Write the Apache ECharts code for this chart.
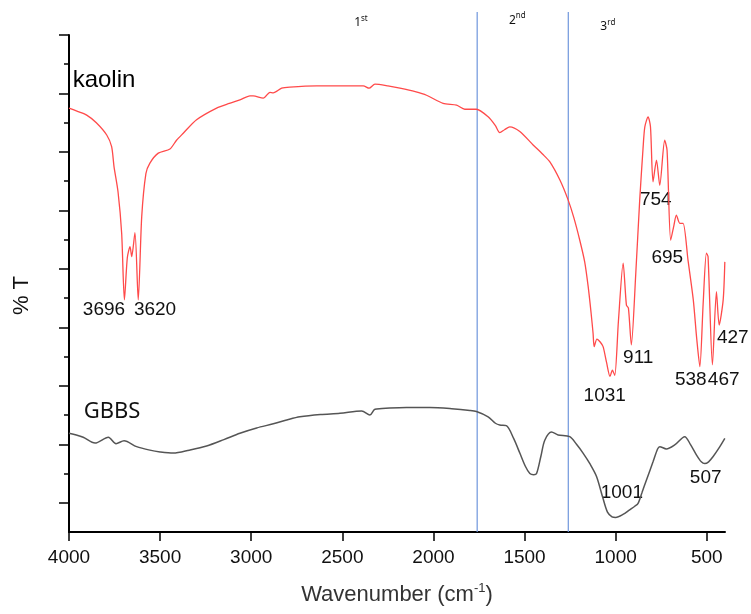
<!DOCTYPE html>
<html>
<head>
<meta charset="utf-8">
<script src="https://cdn.jsdelivr.net/npm/echarts@6/dist/echarts.min.js"></script>
<style>
  html, body { margin: 0; padding: 0; background: #fff; }
  #chart { width: 751px; height: 614px; }
</style>
</head>
<body>
<div id="chart"></div>
<script>
// wavenumber ticks (cm-1)
const xTicks = [500, 1000, 1500, 2000, 2500, 3000, 3500, 4000];
// y axis has no labels: long ticks at half units, short ones in between
const yMajorTicks = [0.5, 1.5, 2.5, 3.5, 4.5, 5.5, 6.5, 7.5, 8.5];
const yMinorTicks = [1, 2, 3, 4, 5, 6, 7, 8];

// [wavenumber, %T (arbitrary offset units)]
const kaolin = [
  [4000, 7.25], [3950, 7.19], [3903, 7.13], [3850, 7.00], [3793, 6.79], [3766, 6.59],
  [3753, 6.25], [3731, 5.82], [3711, 5.11], [3696, 3.97], [3680, 4.69], [3665, 4.88],
  [3656, 4.71], [3638, 5.12], [3620, 3.97], [3601, 5.39], [3578, 6.13], [3556, 6.31],
  [3510, 6.48], [3446, 6.55], [3410, 6.70], [3373, 6.82], [3300, 7.05], [3190, 7.25],
  [3120, 7.33], [3062, 7.39], [3007, 7.46], [2989, 7.46], [2934, 7.42], [2897, 7.52],
  [2879, 7.51], [2833, 7.59], [2788, 7.61], [2641, 7.63], [2500, 7.63], [2385, 7.63],
  [2353, 7.59], [2321, 7.66], [2250, 7.63], [2184, 7.59], [2100, 7.53], [2038, 7.47],
  [1947, 7.33], [1873, 7.30], [1828, 7.23], [1764, 7.23], [1700, 7.10], [1660, 6.95],
  [1636, 6.83], [1610, 6.88], [1581, 6.93], [1526, 6.85], [1453, 6.62], [1400, 6.46],
  [1361, 6.33], [1306, 6.02], [1261, 5.68], [1230, 5.38], [1197, 4.99], [1170, 4.62],
  [1151, 4.20], [1135, 3.75], [1124, 3.40], [1118, 3.17], [1103, 3.30], [1085, 3.25],
  [1069, 3.17], [1050, 2.90], [1031, 2.66], [1018, 2.77], [1005, 2.68], [985, 3.60],
  [959, 4.60], [941, 3.88], [930, 3.83], [914, 3.20], [890, 4.40], [868, 5.68],
  [850, 6.55], [840, 6.93], [822, 7.10], [809, 6.93], [795, 5.99], [776, 6.36],
  [758, 5.93], [731, 6.70], [718, 6.53], [698, 4.99], [680, 5.25], [667, 5.42],
  [648, 5.28], [630, 5.28], [603, 4.65], [574, 3.97], [555, 3.30], [538, 2.83],
  [520, 3.90], [502, 4.77], [493, 4.71], [469, 2.86], [447, 4.11], [432, 3.54],
  [410, 3.97], [401, 4.62]
];

const gbbs = [
  [4000, 1.69], [3960, 1.66], [3922, 1.62], [3857, 1.52], [3784, 1.62], [3742, 1.51],
  [3698, 1.56], [3629, 1.46], [3556, 1.40], [3500, 1.37], [3428, 1.35], [3340, 1.40],
  [3245, 1.47], [3150, 1.58], [3062, 1.69], [2970, 1.78], [2879, 1.85], [2800, 1.92],
  [2733, 1.97], [2620, 2.01], [2513, 2.03], [2394, 2.07], [2349, 2.00], [2321, 2.10],
  [2240, 2.12], [2148, 2.13], [2020, 2.13], [1900, 2.11], [1800, 2.08], [1764, 2.06],
  [1700, 1.97], [1660, 1.86], [1636, 1.83], [1600, 1.82], [1560, 1.60], [1526, 1.35],
  [1495, 1.12], [1471, 1.00], [1450, 0.98], [1434, 1.00], [1410, 1.30], [1389, 1.57],
  [1352, 1.71], [1316, 1.66], [1252, 1.63], [1215, 1.50], [1179, 1.35], [1140, 1.16],
  [1105, 0.95], [1070, 0.58], [1045, 0.34], [1020, 0.26], [1000, 0.25], [960, 0.30],
  [923, 0.38], [895, 0.44], [877, 0.49], [855, 0.68], [831, 0.89], [795, 1.20],
  [770, 1.42], [758, 1.46], [722, 1.42], [676, 1.49], [621, 1.63], [590, 1.50],
  [557, 1.32], [530, 1.20], [511, 1.17], [490, 1.20], [465, 1.29], [430, 1.45],
  [401, 1.60]
];

// region boundaries (blue lines)
const boundaries = [1760, 1260];

// [wavenumber, y, text]
const peakLabels = [
  [3808, 3.80, '3696'], [3528, 3.80, '3620'], [1060, 2.34, '1031'], [876, 2.98, '911'],
  [780, 5.68, '754'], [717, 4.70, '695'], [588, 2.60, '538'], [407, 2.60, '467'],
  [357, 3.32, '427'], [966, 0.67, '1001'], [506, 0.92, '507']
];
const kaolinLabel = [[3808, 7.73, 'kaolin']];
const gbbsLabel = [[3764, 2.05, 'GBBS']];
// [wavenumber, y, number, suffix]
const regionLabels = [
  [2398, 8.72, '1', 'st'], [1540, 8.76, '2', 'nd'], [1043, 8.65, '3', 'rd']
];

const ARIAL = 'Liberation Sans, Arial, sans-serif';
const CALIBRI = 'Noto Sans, Open Sans, sans-serif';

const chart = echarts.init(document.getElementById('chart'));

// text-only scatter (no symbol), scatter's default 0.8 opacity switched off
const textSeries = (data, label) => ({
  type: 'scatter',
  xAxisIndex: 1,
  yAxisIndex: 2,
  symbolSize: 0,
  clip: false,
  silent: true,
  itemStyle: { opacity: 1 },
  data: data,
  label: Object.assign({ show: true, position: 'inside', textBorderWidth: 0, opacity: 1 }, label)
});

chart.setOption({
  animation: false,
  backgroundColor: '#fff',
  grid: [
    { left: 69, right: 26, top: 35, bottom: 82 },
    { left: 69, right: 26, top: 12, bottom: 82 }
  ],
  xAxis: [
    {
      type: 'value', gridIndex: 0, min: 400, max: 4000, inverse: true,
      axisLine: { lineStyle: { color: '#000', width: 2 } },
      axisTick: { customValues: xTicks, length: 9, lineStyle: { color: '#000', width: 1.5 } },
      axisLabel: {
        customValues: xTicks, fontSize: 19, fontFamily: ARIAL, color: '#111', margin: 16,
        formatter: v => String(v)
      },
      splitLine: { show: false },
      name: '{a|Wavenumber (cm}{s|-1}{a|)}',
      nameLocation: 'middle',
      nameGap: 50,
      nameTextStyle: {
        rich: {
          a: { fontSize: 22, fontFamily: ARIAL, color: '#333', lineHeight: 26 },
          s: { fontSize: 13, fontFamily: ARIAL, color: '#333', verticalAlign: 'top', lineHeight: 26 }
        }
      }
    },
    { type: 'value', gridIndex: 1, min: 400, max: 4000, inverse: true, show: false }
  ],
  yAxis: [
    {
      type: 'value', gridIndex: 0, min: 0, max: 8.5,
      axisLine: { show: true, lineStyle: { color: '#000', width: 2 } },
      axisTick: { show: true, customValues: yMajorTicks, length: 10, lineStyle: { color: '#000', width: 1.5 } },
      axisLabel: { show: false },
      splitLine: { show: false },
      name: '% T',
      nameLocation: 'middle',
      nameGap: 36,
      nameTextStyle: { fontSize: 22, fontFamily: ARIAL, color: '#111', padding: [0, 24, 0, 0] }
    },
    {
      type: 'value', gridIndex: 0, min: 0, max: 8.5, position: 'left',
      axisLine: { show: false },
      axisTick: { show: true, customValues: yMinorTicks, length: 5, lineStyle: { color: '#000', width: 1.5 } },
      axisLabel: { show: false },
      splitLine: { show: false }
    },
    { type: 'value', gridIndex: 1, min: 0, max: 8.9, show: false }
  ],
  series: [
    ...boundaries.map(b => ({
      type: 'line', xAxisIndex: 1, yAxisIndex: 2, symbol: 'none', silent: true,
      data: [[b, 0], [b, 8.9]],
      lineStyle: { color: '#6f96dc', width: 1.2 }
    })),
    {
      name: 'kaolin', type: 'line', xAxisIndex: 0, yAxisIndex: 0,
      symbol: 'none', data: kaolin, smooth: 0.25,
      lineStyle: { color: '#ff4a4a', width: 1.3 }
    },
    {
      name: 'GBBS', type: 'line', xAxisIndex: 0, yAxisIndex: 0,
      symbol: 'none', data: gbbs, smooth: 0.3,
      lineStyle: { color: '#555', width: 1.5 }
    },
    textSeries(peakLabels.map(d => ({ value: [d[0], d[1]], text: d[2] })), {
      formatter: p => p.data.text, fontSize: 19, fontFamily: ARIAL, color: '#111'
    }),
    textSeries(kaolinLabel.map(d => ({ value: [d[0], d[1]], text: d[2] })), {
      formatter: p => p.data.text, fontSize: 24, fontFamily: ARIAL, color: '#000'
    }),
    textSeries(gbbsLabel.map(d => ({ value: [d[0], d[1]], text: d[2] })), {
      formatter: p => p.data.text, fontSize: 22, fontFamily: CALIBRI, color: '#111'
    }),
    textSeries(regionLabels.map(d => ({ value: [d[0], d[1]], n: d[2], s: d[3] })), {
      formatter: p => '{n|' + p.data.n + '}{s|' + p.data.s + '}',
      rich: {
        n: { fontSize: 12, fontFamily: CALIBRI, color: '#111', lineHeight: 16 },
        s: { fontSize: 8, fontFamily: CALIBRI, color: '#111', verticalAlign: 'top', lineHeight: 16 }
      }
    })
  ]
});
</script>
</body>
</html>
